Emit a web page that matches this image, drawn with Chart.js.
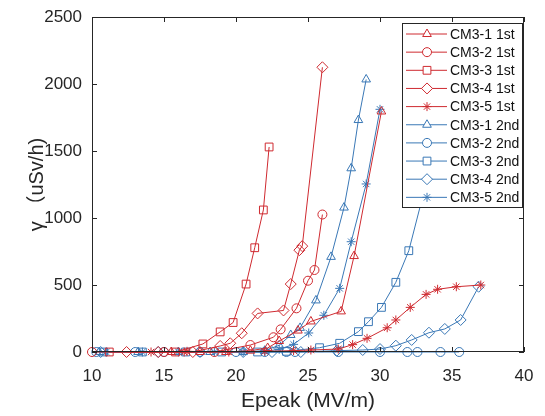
<!DOCTYPE html>
<html>
<head>
<meta charset="utf-8">
<script src="https://cdn.jsdelivr.net/npm/chart.js@4.4.1/dist/chart.umd.min.js"></script>
<style>
  html, body { margin: 0; padding: 0; background: #fff; }
</style>
</head>
<body>
<canvas id="chart" width="545" height="416"></canvas>
<script>
// --- dados ---
const xTicks = [10, 15, 20, 25, 30, 35, 40];
const yTicks = [0, 500, 1000, 1500, 2000, 2500];

const labels = ["CM3-1 1st", "CM3-2 1st", "CM3-3 1st", "CM3-4 1st", "CM3-5 1st",
                "CM3-1 2nd", "CM3-2 2nd", "CM3-3 2nd", "CM3-4 2nd", "CM3-5 2nd"];

const cm31_1st_E = [15.5, 17.5, 19.3, 21.0, 22.2, 23.0, 24.3, 25.2, 27.3, 28.2, 30.1];
const cm31_1st_V = [0, 0, 0, 10, 30, 82, 160, 228, 303, 716, 1795];

const cm32_1st_E = [10.0, 15.0, 18.5, 21.0, 22.6, 23.1, 24.2, 25.0, 25.45, 26.0];
const cm32_1st_V = [0, 0, 0, 52, 110, 169, 326, 532, 612, 1026];

const cm33_1st_E = [11.2, 15.8, 17.7, 18.9, 19.8, 20.7, 21.3, 21.9, 22.3];
const cm33_1st_V = [0, 0, 60, 150, 220, 507, 778, 1060, 1530];

const cm34_1st_E = [12.4, 14.6, 17.0, 18.9, 19.6, 20.4, 21.5, 23.3, 23.8, 24.4, 24.6, 26.0];
const cm34_1st_V = [0, 0, 0, 45, 65, 140, 288, 310, 507, 760, 790, 2125];

const cm35_1st_E = [14.1, 16.4, 16.6, 19.5, 22.0, 24.0, 25.2, 27.1, 28.1, 29.1, 30.5, 31.1, 32.1, 33.2, 34.0, 35.3, 37.0];
const cm35_1st_V = [0, 0, 5, 0, 5, 10, 15, 22, 55, 102, 181, 239, 333, 430, 468, 487, 500];

const cm31_2nd_E = [10.5, 13.2, 16.0, 18.2, 20.5, 22.0, 23.0, 23.8, 24.45, 25.55, 26.6, 27.5, 28.0, 28.5, 29.04];
const cm31_2nd_V = [0, 0, 0, 0, 0, 10, 50, 127, 180, 385, 710, 1078, 1371, 1731, 2034];

const cm32_2nd_E = [10.3, 13.0, 15.0, 17.5, 20.0, 22.0, 23.5, 24.1, 27.1, 30.0, 31.9, 32.6, 34.2, 35.5];
const cm32_2nd_V = [0, 0, 0, 0, 0, 0, 0, 0, 0, 0, 0, 0, 0, 0];

const cm33_2nd_E = [10.8, 13.5, 16.5, 19.0, 21.5, 23.5, 25.8, 27.2, 28.5, 29.2, 30.1, 31.1, 32.0, 33.3];
const cm33_2nd_V = [0, 0, 0, 0, 0, 5, 32, 65, 152, 226, 333, 520, 756, 1300];

const cm34_2nd_E = [10.6, 14.6, 17.5, 20.5, 22.5, 24.5, 27.0, 28.8, 30.0, 31.1, 32.2, 33.4, 34.5, 35.6, 36.85];
const cm34_2nd_V = [0, 0, 0, 0, 0, 0, 10, 15, 22, 47, 90, 144, 172, 239, 487];

const cm35_2nd_E = [11.0, 13.5, 16.0, 18.5, 20.5, 22.0, 23.0, 24.0, 25.05, 26.1, 27.2, 28.0, 29.04, 30.0];
const cm35_2nd_V = [0, 0, 0, 0, 0, 5, 20, 57, 142, 274, 475, 823, 1254, 1811];

const allE = [cm31_1st_E, cm32_1st_E, cm33_1st_E, cm34_1st_E, cm35_1st_E,
              cm31_2nd_E, cm32_2nd_E, cm33_2nd_E, cm34_2nd_E, cm35_2nd_E];
const allV = [cm31_1st_V, cm32_1st_V, cm33_1st_V, cm34_1st_V, cm35_1st_V,
              cm31_2nd_V, cm32_2nd_V, cm33_2nd_V, cm34_2nd_V, cm35_2nd_V];

const RED = "#cf2a30";
const BLUE = "#3a78b6";
const shapes = ["triangle", "circle", "rect", "rectRot", "star"];
const radii = { triangle: 5, circle: 4.5, rect: 5.5, rectRot: 5.5, star: 4.5 };
const FONT = "'Liberation Sans', Arial, sans-serif";

const datasets = labels.map((name, i) => {
    const shape = shapes[i % 5];
    const color = i < 5 ? RED : BLUE;
    return {
        label: name,
        data: allE[i].map((e, k) => ({ x: e, y: allV[i][k] })),
        borderColor: color,
        backgroundColor: "rgba(0,0,0,0)",
        borderWidth: 1,
        pointStyle: shape,
        pointRadius: radii[shape],
        pointBorderColor: color,
        pointBackgroundColor: "rgba(0,0,0,0)",
        pointBorderWidth: 1,
        tension: 0,
        clip: false
    };
});

// --- moldura e ticks para dentro (estilo MATLAB) ---
const boxPlugin = {
    id: "boxTicks",
    afterDatasetsDraw(chart) {
        const ctx = chart.ctx;
        const a = chart.chartArea;
        const xs = chart.scales.x, ys = chart.scales.y;
        ctx.save();
        ctx.strokeStyle = "#262626";
        ctx.lineWidth = 1;
        ctx.strokeRect(a.left + 0.5, a.top + 0.5, a.right - a.left - 1, a.bottom - a.top - 1);
        ctx.beginPath();
        xTicks.forEach(v => {
            const px = Math.round(xs.getPixelForValue(v)) + 0.5;
            ctx.moveTo(px, a.bottom); ctx.lineTo(px, a.bottom - 5);
            ctx.moveTo(px, a.top); ctx.lineTo(px, a.top + 5);
        });
        yTicks.forEach(v => {
            const py = Math.round(ys.getPixelForValue(v)) + 0.5;
            ctx.moveTo(a.left, py); ctx.lineTo(a.left + 5, py);
            ctx.moveTo(a.right, py); ctx.lineTo(a.right - 5, py);
        });
        ctx.stroke();
        ctx.restore();
    }
};

// --- legenda dentro do gráfico ---
const legendPlugin = {
    id: "boxLegend",
    afterDraw(chart) {
        const ctx = chart.ctx;
        const a = chart.chartArea;
        const x0 = a.right - 122, y0 = a.top + 6, w = 120, h = 184;
        ctx.save();
        ctx.fillStyle = "#fff";
        ctx.fillRect(x0, y0, w, h);
        ctx.strokeStyle = "#262626";
        ctx.lineWidth = 1;
        ctx.strokeRect(x0 + 0.5, y0 + 0.5, w, h);
        ctx.font = "14px " + FONT;
        ctx.textBaseline = "middle";
        chart.data.datasets.forEach((ds, i) => {
            const yy = y0 + 11 + i * 18.15;
            ctx.strokeStyle = ds.borderColor;
            ctx.lineWidth = 1;
            ctx.beginPath();
            ctx.moveTo(x0 + 4, yy); ctx.lineTo(x0 + 45, yy);
            ctx.stroke();
            ctx.fillStyle = "#fff";
            Chart.helpers.drawPoint(ctx, {
                pointStyle: ds.pointStyle,
                radius: ds.pointRadius,
                borderWidth: 1,
                rotation: 0
            }, x0 + 25, yy);
            ctx.fillStyle = "#111";
            ctx.fillText(ds.label, x0 + 48, yy + 1);
        });
        ctx.restore();
    }
};

new Chart(document.getElementById("chart").getContext("2d"), {
    type: "line",
    data: { datasets },
    options: {
        responsive: false,
        animation: false,
        devicePixelRatio: 1,
        layout: { padding: { left: 25, top: 17, right: 21, bottom: 0 } },
        plugins: { legend: { display: false }, tooltip: { enabled: false } },
        scales: {
            x: {
                type: "linear",
                min: 10, max: 40,
                afterBuildTicks: s => { s.ticks = xTicks.map(v => ({ value: v })); },
                afterFit: s => { s.height = 64; },
                grid: { display: false },
                border: { display: false },
                ticks: { color: "#262626", padding: 6, callback: v => String(v),
                         font: { size: 17, family: FONT } },
                title: { display: true, text: "Epeak (MV/m)", color: "#262626",
                         padding: { top: 2, bottom: 2 },
                         font: { size: 21, family: FONT } }
            },
            y: {
                min: 0, max: 2500,
                afterBuildTicks: s => { s.ticks = yTicks.map(v => ({ value: v })); },
                afterFit: s => { s.width = 67; },
                grid: { display: false },
                border: { display: false },
                ticks: { color: "#262626", padding: 2, callback: v => String(v),
                         font: { size: 17, family: FONT } },
                title: { display: true, text: "γ （uSv/h)", color: "#262626",
                         padding: { top: 0, bottom: 0 },
                         font: { size: 20, family: "'Liberation Sans', 'Noto Sans CJK SC', Arial" } }
            }
        }
    },
    plugins: [boxPlugin, legendPlugin]
});
</script>
</body>
</html>
